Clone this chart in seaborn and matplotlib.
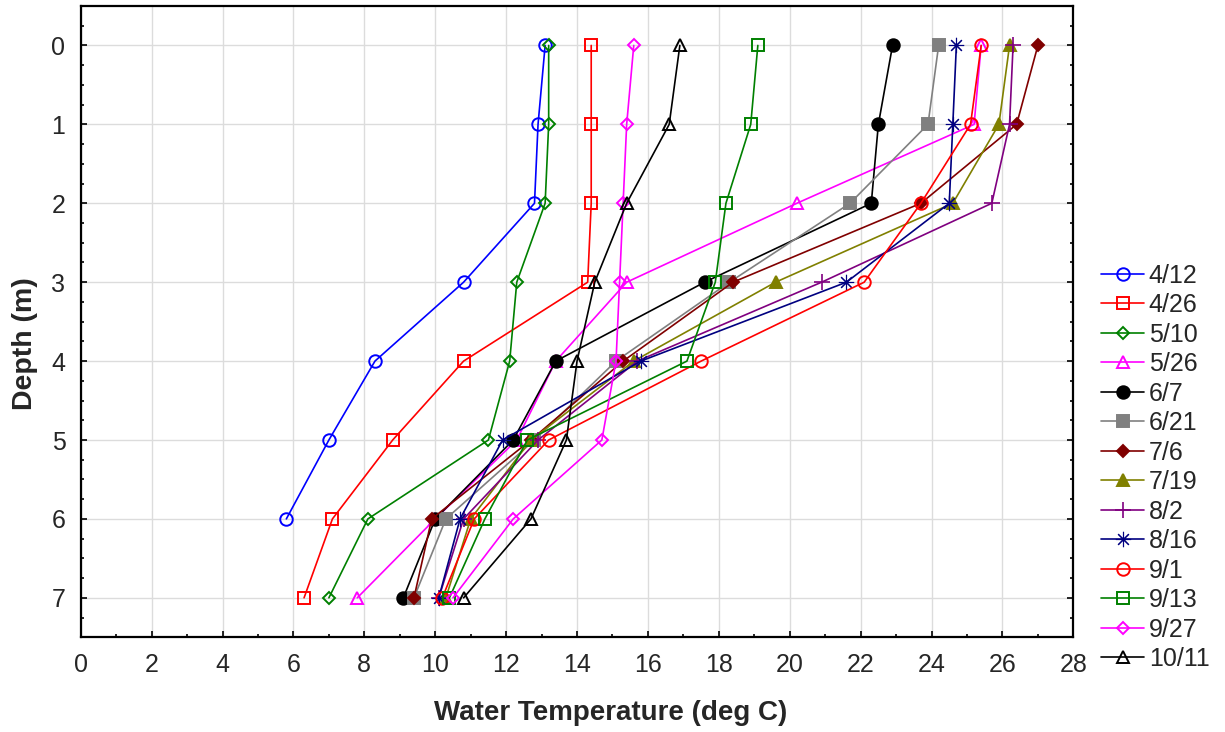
import matplotlib
matplotlib.use("Agg")
import matplotlib.pyplot as plt
from matplotlib.ticker import MultipleLocator
import seaborn as sns
import pandas as pd

# Sampling dates
dates = ["4/12", "4/26", "5/10", "5/26", "6/7", "6/21", "7/6", "7/19",
         "8/2", "8/16", "9/1", "9/13", "9/27", "10/11"]

# Water temperature (deg C) at depths 0..7 m for each sampling date
t_0412 = [13.1, 12.9, 12.8, 10.8, 8.3, 7.0, 5.8]
t_0426 = [14.4, 14.4, 14.4, 14.3, 10.8, 8.8, 7.1, 6.3]
t_0510 = [13.2, 13.2, 13.1, 12.3, 12.1, 11.5, 8.1, 7.0]
t_0526 = [25.4, 25.2, 20.2, 15.4, 13.4, 12.3, 10.0, 7.8]
t_0607 = [22.9, 22.5, 22.3, 17.6, 13.4, 12.2, 10.0, 9.1]
t_0621 = [24.2, 23.9, 21.7, 18.3, 15.1, 12.8, 10.3, 9.4]
t_0706 = [27.0, 26.4, 23.7, 18.4, 15.3, 12.7, 9.9, 9.4]
t_0719 = [26.2, 25.9, 24.6, 19.6, 15.6, 12.7, 11.0, 10.3]
t_0802 = [26.3, 26.2, 25.7, 20.9, 15.7, 12.9, 10.8, 10.1]
t_0816 = [24.7, 24.6, 24.5, 21.6, 15.8, 11.9, 10.7, 10.1]
t_0901 = [25.4, 25.1, 23.7, 22.1, 17.5, 13.2, 11.1, 10.2]
t_0913 = [19.1, 18.9, 18.2, 17.9, 17.1, 12.6, 11.4, 10.4]
t_0927 = [15.6, 15.4, 15.3, 15.2, 15.1, 14.7, 12.2, 10.5]
t_1011 = [16.9, 16.6, 15.4, 14.5, 14.0, 13.7, 12.7, 10.8]

profiles = [t_0412, t_0426, t_0510, t_0526, t_0607, t_0621, t_0706,
            t_0719, t_0802, t_0816, t_0901, t_0913, t_0927, t_1011]

x_ticks = list(range(0, 29, 2))
y_ticks = list(range(0, 8))

# Line colour, marker and marker fill per date
colors = ["#0000FF", "#FF0000", "#008000", "#FF00FF", "#000000", "#808080",
          "#800000", "#808000", "#800080", "#000080", "#FF0000", "#008000",
          "#FF00FF", "#000000"]
markers = ["o", "s", "D", "^", "o", "s", "D", "^", "+", (8, 2, 0),
           "o", "s", "D", "^"]
filled = [False, False, False, False, True, True, True, True, True, True,
          False, False, False, False]
msizes = [9, 9, 6.5, 9, 9, 9, 6.5, 9, 11, 11, 9, 9, 6.5, 9]
medge = [1.4, 1.4, 1.4, 1.4, 1.4, 1.4, 1.4, 1.4, 1.2, 0.8,
         1.4, 1.4, 1.4, 1.4]

sns.set_style("ticks")
plt.rcParams["font.family"] = ["Liberation Sans", "DejaVu Sans"]

fig = plt.figure(figsize=(12.25, 7.32), dpi=100)
ax = fig.add_axes([0.0659, 0.1294, 0.8103, 0.8624])

for label, temps, col, mk, fill, ms, mew in zip(dates, profiles, colors,
                                               markers, filled, msizes, medge):
    df = pd.DataFrame({"temp": temps, "depth": list(range(len(temps)))})
    sns.lineplot(data=df, x="temp", y="depth", ax=ax, sort=False,
                 estimator=None, color=col, marker=mk, markersize=ms,
                 markerfacecolor=(col if fill else "none"),
                 markeredgecolor=col, markeredgewidth=mew,
                 linewidth=1.2, label=label)

ax.set_xlim(0, 28)
ax.set_ylim(7.5, -0.5)
ax.set_xticks(x_ticks)
ax.set_yticks(y_ticks)
ax.xaxis.set_minor_locator(MultipleLocator(1))
ax.yaxis.set_minor_locator(MultipleLocator(0.25))
ax.grid(True, which="major", color="#DCDCDC", linewidth=1.0)
ax.set_axisbelow(True)

for side in ["left", "bottom", "right", "top"]:
    ax.spines[side].set_visible(True)
    ax.spines[side].set_color("black")
    ax.spines[side].set_linewidth(1.6)

ax.tick_params(which="both", direction="in", left=True, right=True,
               bottom=True, top=False, color="black", width=1.2)
ax.tick_params(which="major", length=4, labelsize=18, pad=11)
ax.tick_params(which="minor", length=2.2)

# Axis titles, centred across the whole graph width
ax.set_xlabel("Water Temperature (deg C)", fontsize=20, fontweight="bold")
ax.xaxis.set_label_coords(0.534, -0.12)
ax.xaxis.label.set_verticalalignment("center")
ax.set_ylabel("Depth (m)", fontsize=20.5, fontweight="bold")
ax.yaxis.set_label_coords(-0.056, 0.465)
ax.yaxis.label.set_verticalalignment("center")
ax.yaxis.label.set_horizontalalignment("center")

handles, labels = ax.get_legend_handles_labels()
ax.get_legend().remove()
fig.legend(handles, labels, loc="upper left", bbox_to_anchor=(0.899, 0.64),
           frameon=False, fontsize=18, handlelength=1.7, handletextpad=0.2,
           labelspacing=0.22, borderpad=0, borderaxespad=0)

fig.savefig("out.png", dpi=100)
